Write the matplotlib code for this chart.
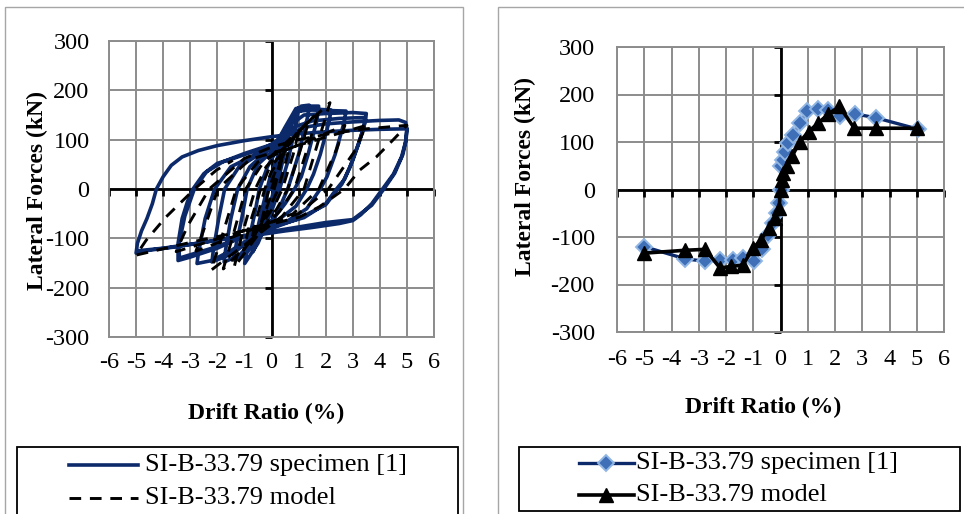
import matplotlib
matplotlib.use("Agg")
import matplotlib.pyplot as plt
from matplotlib.lines import Line2D
from matplotlib.patches import Rectangle

plt.rcParams['font.family'] = ['Liberation Serif', 'DejaVu Serif']
plt.rcParams['axes.unicode_minus'] = False

# ---------------- data ----------------
xticks = [-6, -5, -4, -3, -2, -1, 0, 1, 2, 3, 4, 5, 6]
yticks = [-300, -200, -100, 0, 100, 200, 300]
label_spec = "SI-B-33.79 specimen [1]"
label_model = "SI-B-33.79 model"
xlabel = "Drift Ratio (%)"
ylabel = "Lateral Forces (kN)"

# specimen hysteresis (left), cycle by cycle
spec_c1_x = [0, 0.2, 0.5, 0.42, 0.15, 0, -0.25, -0.5, -0.42, -0.15, 0]
spec_c1_y = [0, 45, 111, 80, 10, -20, -55, -99, -70, -10, 20]
spec_c2_x = [0.3, 0.72, 0.62, 0.3, 0.05, -0.3, -0.68, -0.58, -0.3, -0.05]
spec_c2_y = [70, 141, 105, 30, -30, -80, -127, -95, -30, 25]
spec_c3_x = [0.3, 0.7, 0.99, 0.92, 0.6, 0.3, 0, -0.5, -0.99, -0.9, -0.6, -0.45, -0.15]
spec_c3_y = [75, 130, 164, 135, 55, 0, -45, -110, -151, -120, -45, 0, 45]
spec_c4_x = [0.3, 0.8, 1.1, 1.39, 1.35, 1.0, 0.6, 0.2, -0.4, -1.0, -1.4, -1.35, -1.1, -0.9, -0.5, 0]
spec_c4_y = [90, 145, 168, 170, 150, 70, 0, -50, -95, -135, -144, -125, -60, 0, 50, 75]
spec_c5_x = [0.5, 0.9, 1.3, 1.74, 1.68, 1.35, 1.1, 0.85, 0.5, 0, -0.6, -1.2, -1.75, -1.7, -1.5, -1.25, -0.8, -0.2]
spec_c5_y = [125, 163, 168, 168, 140, 70, 25, 0, -30, -65, -100, -135, -148, -125, -60, 0, 45, 75]
spec_c6_x = [0.4, 0.9, 1.3, 2.2, 2.12, 1.8, 1.55, 1.3, 0.9, 0.2, -0.6, -1.4, -2.2, -2.15, -1.95, -1.73, -1.2, -0.4, 0.1]
spec_c6_y = [110, 155, 163, 160, 135, 70, 30, 0, -35, -65, -95, -130, -148, -125, -60, 0, 45, 72, 85]
spec_c7_x = [0.6, 1.0, 1.5, 2.75, 2.68, 2.35, 2.05, 1.8, 1.3, 0.5, -0.5, -1.5, -2.2, -2.75, -2.7, -2.45, -2.1, -1.5, -0.6, 0.2]
spec_c7_y = [130, 158, 160, 158, 135, 70, 25, 0, -40, -68, -90, -125, -145, -151, -130, -60, 0, 45, 70, 88]
spec_c8_x = [0.7, 1.2, 2.0, 3.0, 3.5, 3.47, 3.3, 3.0, 2.7, 2.4, 2.0, 1.2, 0, -1.0, -2.0, -3.0, -3.45,
             -3.45, -3.3, -3.1, -2.9, -2.5, -2.0, -1.4, -0.2, 0.3]
spec_c8_y = [130, 150, 153, 155, 153, 138, 105, 58, 20, 0, -30, -58, -77, -95, -120, -138, -145,
             -110, -60, -25, 0, 31, 52, 62, 85, 100]
spec_c9_x = [0.8, 1.5, 2.5, 3.45, 3.42, 3.2, 2.9, 2.6, 2.45, 2.0, 1.0, 0, -1.2, -2.2, -3.4,
             -3.42, -3.2, -2.85, -2.4, -1.8, -1.0, 0, 0.6]
spec_c9_y = [125, 138, 143, 145, 128, 90, 45, 10, 0, -32, -60, -80, -100, -120, -140,
             -112, -55, 0, 35, 55, 72, 90, 110]
spec_c10_x = [1.2, 2, 3, 4, 4.7, 4.95, 5.0, 4.95, 4.8, 4.5, 4.1, 3.7, 3.3, 3.0, 2.5, 1.5, 0.5, -0.5,
              -1.5, -2.5, -3.5, -4.5, -5.0, -4.95, -4.8, -4.6, -4.4, -4.25, -4.0, -3.7, -3.3, -2.7,
              -2.0, -1.0, 0, 0.6]
spec_c10_y = [125, 132, 136, 139, 140, 135, 122, 95, 65, 30, 0, -30, -52, -64, -70, -78, -85, -93,
              -99, -108, -117, -124, -130, -110, -85, -60, -30, 0, 25, 48, 65, 78,
              88, 98, 106, 110]
spec_c11_x = [1.0, 2, 3, 4, 5.0, 4.97, 4.85, 4.55, 4.15, 3.7, 3.0, 2.0, 0, -2.0, -4.0, -4.9]
spec_c11_y = [112, 116, 119, 121, 122, 100, 70, 32, 0, -33, -62, -68, -86, -104, -120, -125]

# model hysteresis (left)
model_c1_x = [0, 0.42, 0.3, 0.1, -0.1, -0.44, -0.3, -0.1, 0.1]
model_c1_y = [0, 70, 40, 0, -25, -82, -50, 0, 30]
model_c2_x = [0.72, 0.55, 0.25, 0, -0.75, -0.55, -0.25, 0]
model_c2_y = [101, 60, 0, -30, -106, -60, 0, 35]
model_c3_x = [1.03, 0.8, 0.4, 0.1, -1.03, -0.8, -0.4, -0.1]
model_c3_y = [122, 70, 0, -35, -124, -70, 0, 40]
model_c4_x = [1.39, 1.1, 0.6, 0.2, -1.38, -1.1, -0.6, -0.2]
model_c4_y = [140, 85, 0, -40, -159, -95, 0, 45]
model_c5_x = [1.74, 1.4, 0.85, 0.3, -1.78, -1.45, -0.95, -0.35]
model_c5_y = [158, 95, 0, -45, -162, -100, 0, 50]
model_c6_x = [2.16, 1.8, 1.2, 0.4, -2.24, -1.85, -1.3, -0.5]
model_c6_y = [175, 110, 0, -55, -165, -100, 0, 55]
model_c7_x = [2.71, 2.4, 1.75, 0.8, -2.79, -2.45, -1.98, -0.8]
model_c7_y = [129, 80, 0, -50, -126, -75, 0, 60]
model_c8_x = [3.5, 3.05, 2.1, 1.0, -3.52, -3.1, -2.3, -1.0]
model_c8_y = [129, 75, 0, -50, -127, -75, 0, 62]
model_c9_x = [0, 1.0, 2.14, 3.5, 5.0, 4.48, 3.87, 3.25, 2.7, 1.77, 1.03, -1.43, -2.66, -5.0,
              -4.63, -3.9, -2.84, -2.04, -1.43]
model_c9_y = [85, 100, 112, 122, 129, 99, 65, 38, 0, -36, -57, -90, -104, -134,
              -104, -57, 0, 38, 58]

# envelopes (right)
env_spec_x = [-5.02, -3.5, -2.77, -2.21, -1.74, -1.38, -0.99, -0.69, -0.46, -0.26, -0.13, -0.04, 0,
              0.02, 0.09, 0.17, 0.29, 0.46, 0.72, 0.99, 1.39, 1.75, 2.19, 2.75, 3.5, 5.05]
env_spec_y = [-120, -146, -151, -148, -148, -144, -151, -126, -96, -71, -50, -29, 0,
              49, 63, 80, 98, 114, 141, 165, 170, 167, 155, 159, 151, 127]
env_model_x = [-5.0, -3.51, -2.77, -2.22, -1.8, -1.38, -1.01, -0.72, -0.44, -0.2, -0.05, 0,
               0.05, 0.11, 0.24, 0.42, 0.72, 1.03, 1.39, 1.74, 2.16, 2.71, 3.5, 5.0]
env_model_y = [-134, -128, -126, -165, -162, -159, -124, -106, -82, -60, -38, 0,
               20, 34, 49, 70, 101, 122, 140, 158, 175, 129, 129, 129]

spec_cycles_x = [spec_c1_x, spec_c2_x, spec_c3_x, spec_c4_x, spec_c5_x, spec_c6_x,
                 spec_c7_x, spec_c8_x, spec_c9_x, spec_c10_x, spec_c11_x]
spec_cycles_y = [spec_c1_y, spec_c2_y, spec_c3_y, spec_c4_y, spec_c5_y, spec_c6_y,
                 spec_c7_y, spec_c8_y, spec_c9_y, spec_c10_y, spec_c11_y]
model_cycles_x = [model_c1_x, model_c2_x, model_c3_x, model_c4_x, model_c5_x, model_c6_x,
                  model_c7_x, model_c8_x, model_c9_x]
model_cycles_y = [model_c1_y, model_c2_y, model_c3_y, model_c4_y, model_c5_y, model_c6_y,
                  model_c7_y, model_c8_y, model_c9_y]

spec_hx = [v for c in spec_cycles_x for v in c]
spec_hy = [v for c in spec_cycles_y for v in c]
model_hx = [v for c in model_cycles_x for v in c]
model_hy = [v for c in model_cycles_y for v in c]

# ---------------- styles ----------------
NAVY = '#0c2a6a'
GRID = '#8c8c8c'
W, H = 964, 514
SPEC_LW = 2.6
MODEL_LW = 2.1


def fx(x):
    return x / W


def fy(y):
    return 1 - y / H


fig = plt.figure(figsize=(9.64, 5.14), dpi=100)

# panel borders
fig.add_artist(Rectangle((fx(5), -0.05), fx(463) - fx(5), fy(7) + 0.05, transform=fig.transFigure,
                         fill=False, edgecolor='#a6a6a6', lw=1.0))
fig.add_artist(Rectangle((fx(498), -0.05), fx(975) - fx(498), fy(7) + 0.05, transform=fig.transFigure,
                         fill=False, edgecolor='#a6a6a6', lw=1.0))

axL = fig.add_axes([fx(109), fy(337), (434 - 109) / W, (337 - 41) / H])
axR = fig.add_axes([fx(617), fy(332), (944 - 617) / W, (332 - 47) / H])


def style(ax, ypad, xpad):
    ax.set_xlim(-6, 6)
    ax.set_ylim(-300, 300)
    ax.set_xticks(xticks)
    ax.set_yticks(yticks)
    ax.grid(True, color=GRID, lw=1.4)
    ax.set_axisbelow(True)
    for s in ax.spines.values():
        s.set_color(GRID)
        s.set_linewidth(1.4)
    ax.tick_params(axis='both', length=0, labelsize=17.5)
    ax.tick_params(axis='y', pad=ypad)
    ax.tick_params(axis='x', pad=xpad)
    ax.axhline(0, color='k', lw=2.0, zorder=2)
    ax.axvline(0, color='k', lw=2.0, zorder=2)
    ax.plot(xticks, [0] * len(xticks), ls='none', marker=3, ms=5, mew=2, color='k',
            clip_on=False, zorder=2)
    ax.plot([0] * len(yticks), yticks, ls='none', marker=0, ms=5, mew=2, color='k',
            clip_on=False, zorder=2)


style(axL, 14, 11)
style(axR, 16, 12)

# left: hysteresis
axL.plot(spec_hx, spec_hy, color=NAVY, lw=SPEC_LW, zorder=3, solid_joinstyle='round')
axL.plot(model_hx, model_hy, color='k', lw=MODEL_LW, ls=(0, (4, 3)), zorder=4)

# right: envelopes
spec_kw = dict(color=NAVY, lw=2.4, marker='D', ms=8, mfc='#3f6fb6', mec='#92b6e4', mew=1.4)
model_kw = dict(color='k', lw=2.6, marker='^', ms=10.5, mfc='k', mec='k')
axR.plot(env_spec_x, env_spec_y, zorder=3, **spec_kw)
axR.plot(env_model_x, env_model_y, zorder=4, **model_kw)

# axis labels
lab = dict(fontsize=17, fontweight='bold', ha='center', va='center')
fig.text(fx(37), fy(190), ylabel, rotation=90, **lab)
fig.text(fx(525), fy(177), ylabel, rotation=90, **lab)
fig.text(fx(266), fy(413), xlabel, **lab)
fig.text(fx(763), fy(407), xlabel, **lab)

# legends (manual, boxed)
fig.add_artist(Rectangle((fx(17), -0.05), fx(458) - fx(17), fy(447) + 0.05, transform=fig.transFigure,
                         fill=False, edgecolor='k', lw=1.3))
fig.add_artist(Rectangle((fx(519), fy(511)), fx(960) - fx(519), fy(447) - fy(511),
                         transform=fig.transFigure, fill=False, edgecolor='k', lw=1.3))

fig.add_artist(Line2D([fx(69), fx(138)], [fy(465), fy(465)], transform=fig.transFigure,
                      color=NAVY, lw=SPEC_LW))
fig.add_artist(Line2D([fx(69), fx(138)], [fy(498), fy(498)], transform=fig.transFigure,
                      color='k', lw=MODEL_LW, ls=(0, (4, 3))))
fig.text(fx(145), fy(465), label_spec, fontsize=19, va='center', ha='left')
fig.text(fx(145), fy(498), label_model, fontsize=19, va='center', ha='left')

fig.add_artist(Line2D([fx(579), fx(634)], [fy(463), fy(463)], transform=fig.transFigure,
                      color=NAVY, lw=2.4))
fig.add_artist(Line2D([fx(606)], [fy(463)], transform=fig.transFigure, ls='none',
                      marker='D', ms=8, mfc='#3f6fb6', mec='#92b6e4', mew=1.4))
fig.add_artist(Line2D([fx(579), fx(634)], [fy(495), fy(495)], transform=fig.transFigure,
                      color='k', lw=2.6))
fig.add_artist(Line2D([fx(606)], [fy(495)], transform=fig.transFigure, ls='none',
                      marker='^', ms=10.5, mfc='k', mec='k'))
fig.text(fx(636), fy(463), label_spec, fontsize=19, va='center', ha='left')
fig.text(fx(636), fy(495), label_model, fontsize=19, va='center', ha='left')

fig.savefig('out.png', dpi=100)
